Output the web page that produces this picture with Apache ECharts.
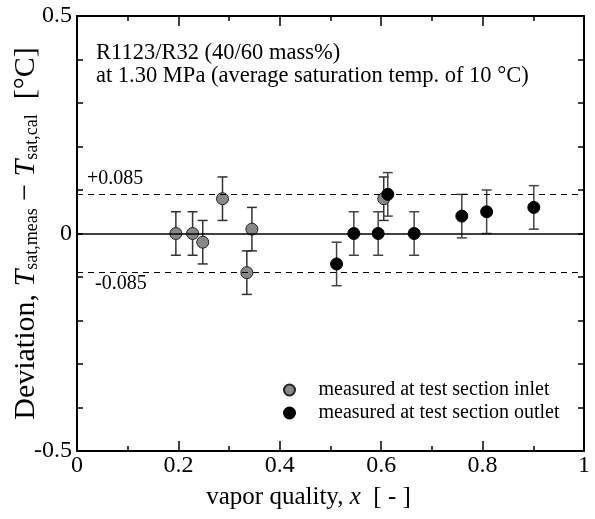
<!DOCTYPE html>
<html>
<head>
<meta charset="utf-8">
<script src="https://cdn.jsdelivr.net/npm/echarts@6/dist/echarts.min.js"></script>
<style>
  html, body { margin: 0; padding: 0; background: #fff; }
  #chart { width: 595px; height: 519px; }
</style>
</head>
<body>
<div id="chart"></div>
<script>
// inlet points: [quality, deviation]
const inletX = [0.195, 0.228, 0.248, 0.287, 0.335, 0.345, 0.605];
const inletY = [0.0, 0.0, -0.02, 0.08, -0.09, 0.01, 0.08];
// outlet points
const outletX = [0.512, 0.546, 0.594, 0.613, 0.665, 0.759, 0.808, 0.901];
const outletY = [-0.07, 0.0, 0.0, 0.09, 0.0, 0.04, 0.05, 0.06];
const errHalf = 0.05;
const band = 0.085;

const serif = '"Liberation Serif", "DejaVu Serif", serif';

const inletData = inletX.map((x, i) => [x, inletY[i]]);
const outletData = outletX.map((x, i) => [x, outletY[i]]);

function errorSeries(data, color) {
  return {
    type: 'custom',
    silent: true,
    data: data.map(d => [d[0], d[1] - errHalf, d[1] + errHalf]),
    renderItem: (params, api) => {
      const lo = api.coord([api.value(0), api.value(1)]);
      const hi = api.coord([api.value(0), api.value(2)]);
      const w = 5;
      const style = { stroke: color, lineWidth: 1.5 };
      return {
        type: 'group',
        children: [
          { type: 'line', shape: { x1: lo[0], y1: lo[1], x2: hi[0], y2: hi[1] }, style },
          { type: 'line', shape: { x1: lo[0] - w, y1: lo[1], x2: lo[0] + w, y2: lo[1] }, style },
          { type: 'line', shape: { x1: hi[0] - w, y1: hi[1], x2: hi[0] + w, y2: hi[1] }, style }
        ]
      };
    },
    z: 2
  };
}

const axisLine = { show: true, onZero: false, lineStyle: { color: '#000', width: 2 } };
const tickStyle = { color: '#000', width: 1.5 };

const chart = echarts.init(document.getElementById('chart'));
chart.setOption({
  animation: false,
  grid: { left: 77, right: 11, top: 16, bottom: 68, containLabel: false, outerBoundsMode: 'none' },
  legend: {
    orient: 'vertical',
    left: 278,
    top: 375,
    itemWidth: 48,
    itemHeight: 11,
    itemGap: 3,
    textStyle: { fontFamily: serif, fontSize: 20, color: '#000' },
    data: ['measured at test section inlet', 'measured at test section outlet']
  },
  xAxis: [
    {
      type: 'value', min: 0, max: 1, interval: 0.2,
      axisLine,
      axisTick: { inside: true, length: 10, lineStyle: tickStyle },
      minorTick: { show: true, splitNumber: 2, length: 5, lineStyle: tickStyle },
      splitLine: { show: false },
      axisLabel: { fontFamily: serif, fontSize: 24, color: '#000', margin: 3,
        formatter: v => (v === 0 || v === 1) ? String(v) : v.toFixed(1) },
      name: '{a|vapor quality, }{i|x}{a|  [ - ]}',
      nameLocation: 'middle',
      nameGap: 34,
      nameMoveOverlap: false,
      nameTextStyle: {
        padding: [0, 44, 0, 0],
        rich: {
          a: { fontFamily: serif, fontSize: 25, color: '#000' },
          i: { fontFamily: serif, fontSize: 25, fontStyle: 'italic', color: '#000' }
        }
      }
    },
    {
      type: 'value', min: 0, max: 1, interval: 0.2, position: 'top',
      axisLine,
      axisTick: { inside: true, length: 10, lineStyle: tickStyle },
      minorTick: { show: true, splitNumber: 2, length: 5, lineStyle: tickStyle },
      splitLine: { show: false },
      axisLabel: { show: false }
    }
  ],
  yAxis: [
    {
      type: 'value', min: -0.5, max: 0.5, interval: 0.1,
      axisLine,
      axisTick: { inside: true, length: 6, lineStyle: tickStyle },
      splitLine: { show: false },
      axisLabel: {
        fontFamily: serif, fontSize: 24, color: '#000', margin: 5,
        formatter: v => {
          const r = Math.round(v * 10) / 10;
          if (r === 0) return '0';
          if (r === 0.5) return '0.5';
          if (r === -0.5) return '-0.5';
          return '';
        }
      },
      name: '{a|Deviation, }{i|T}{s|sat,meas}{a| − }{i|T}{s|sat,cal}{a|  [°C]}',
      nameLocation: 'middle',
      nameGap: 36,
      nameMoveOverlap: false,
      nameTextStyle: {
        rich: {
          a: { fontFamily: serif, fontSize: 30, color: '#000' },
          i: { fontFamily: serif, fontSize: 30, fontStyle: 'italic', color: '#000' },
          s: { fontFamily: serif, fontSize: 18, color: '#000', verticalAlign: 'bottom', padding: [12, 0, 0, 0] }
        }
      }
    },
    {
      type: 'value', min: -0.5, max: 0.5, interval: 0.1, position: 'right',
      axisLine,
      axisTick: { inside: true, length: 6, lineStyle: tickStyle },
      splitLine: { show: false },
      axisLabel: { show: false }
    }
  ],
  graphic: [
    { type: 'text', left: 96, top: 42, style: { text: 'R1123/R32 (40/60 mass%)', font: '22.5px ' + serif, fill: '#000' } },
    { type: 'text', left: 96, top: 65, style: { text: 'at 1.30 MPa (average saturation temp. of 10 °C)', font: '22.5px ' + serif, fill: '#000' } },
    { type: 'text', left: 87, top: 169, style: { text: '+0.085', font: '20px ' + serif, fill: '#000' } },
    { type: 'text', left: 95, top: 274, style: { text: '-0.085', font: '20px ' + serif, fill: '#000' } }
  ],
  series: [
    {
      type: 'line', silent: true, data: [],
      markLine: {
        symbol: 'none', silent: true, label: { show: false },
        data: [
          { yAxis: 0, lineStyle: { type: 'solid', color: '#000', width: 1.5 } },
          { yAxis: band, lineStyle: { type: [6, 5], color: '#000', width: 1 } },
          { yAxis: -band, lineStyle: { type: [6, 5], color: '#000', width: 1 } }
        ]
      }
    },
    errorSeries(inletData, '#333'),
    errorSeries(outletData, '#444'),
    {
      name: 'measured at test section inlet',
      type: 'scatter', symbol: 'circle', symbolSize: 12,
      itemStyle: { color: '#888', borderColor: '#222', borderWidth: 1, opacity: 1 },
      data: inletData, z: 3
    },
    {
      name: 'measured at test section outlet',
      type: 'scatter', symbol: 'circle', symbolSize: 12,
      itemStyle: { color: '#000', borderColor: '#000', borderWidth: 1, opacity: 1 },
      data: outletData, z: 4
    }
  ]
});
</script>
</body>
</html>
